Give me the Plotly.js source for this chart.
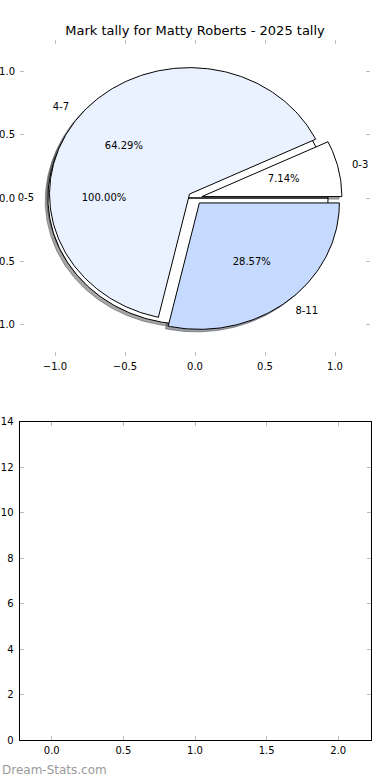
<!DOCTYPE html>
<html>
<head>
<meta charset="utf-8">
<script src="https://cdn.plot.ly/plotly-3.0.1.min.js"></script>
<style>html,body{margin:0;padding:0;background:#fff;}#chart{width:390px;height:780px;}</style>
</head>
<body>
<div id="chart"></div>
<script>
// ---- data ----
var chartTitle = "Mark tally for Matty Roberts - 2025 tally";
var bandLabels = ["0-3", "4-7", "8-11"];
var bandCounts = [1, 9, 4];
var totalLabels = ["0-5"];
var totalCounts = [14];
var pieTickVals = [-1.0, -0.5, 0.0, 0.5, 1.0];
var pieTickText = ["\u22121.0", "\u22120.5", "0.0", "0.5", "1.0"];
var barXTickVals = [0.0, 0.5, 1.0, 1.5, 2.0];
var barXTickText = ["0.0", "0.5", "1.0", "1.5", "2.0"];
var barYTickVals = [0, 2, 4, 6, 8, 10, 12, 14];
var barYTickText = ["0", "2", "4", "6", "8", "10", "12", "14"];
var watermark = "Dream-Stats.com";

// ---- style ----
var bandColors = [[255,255,255],[234,241,255],[198,217,255]];
var totalColors = [[255,255,255]];
var explode = 0.05, labelDist = 1.1, pctDist = 0.6, shadowOff = 0.02;
var FONT = "DejaVu Sans, sans-serif";

function rgb(c){return "rgb("+c[0]+","+c[1]+","+c[2]+")";}
function shadowCol(c){return "rgba("+Math.round(c[0]*0.3)+","+Math.round(c[1]*0.3)+","+Math.round(c[2]*0.3)+",0.5)";}

// build matplotlib-like pie wedges in data coordinates of axis x/y
function buildPie(labels, counts, colors){
  var total = counts.reduce(function(a,b){return a+b;},0);
  var out = [];
  var start = 0;
  for (var i=0;i<counts.length;i++){
    var frac = counts[i]/total;
    var t1 = start*2*Math.PI, t2 = (start+frac)*2*Math.PI;
    var mid = (t1+t2)/2;
    var cx = explode*Math.cos(mid), cy = explode*Math.sin(mid);
    var xs=[cx], ys=[cy];
    var n = Math.max(4, Math.ceil(frac*360));
    for (var k=0;k<=n;k++){
      var t = t1+(t2-t1)*k/n;
      xs.push(cx+Math.cos(t)); ys.push(cy+Math.sin(t));
    }
    xs.push(cx); ys.push(cy);
    out.push({xs:xs, ys:ys, color:colors[i], label:labels[i], pct:(frac*100).toFixed(2)+"%",
      lx:cx+labelDist*Math.cos(mid), ly:cy+labelDist*Math.sin(mid),
      px:cx+pctDist*Math.cos(mid), py:cy+pctDist*Math.sin(mid)});
    start += frac;
  }
  return out;
}

var pieA = buildPie(totalLabels, totalCounts, totalColors);
var pieB = buildPie(bandLabels, bandCounts, bandColors);
var allW = pieA.concat(pieB);

var traces = [];
// shadows below all wedges
allW.forEach(function(w){
  traces.push({type:"scatter", mode:"lines", x:w.xs.map(function(v){return v-shadowOff;}),
    y:w.ys.map(function(v){return v-shadowOff;}), fill:"toself", fillcolor:shadowCol(w.color),
    line:{color:shadowCol(w.color), width:1}, hoverinfo:"skip", showlegend:false, xaxis:"x", yaxis:"y"});
});
// wedges
allW.forEach(function(w){
  traces.push({type:"scatter", mode:"lines", x:w.xs, y:w.ys, fill:"toself", fillcolor:rgb(w.color),
    line:{color:"black", width:1}, hoverinfo:"skip", showlegend:false, xaxis:"x", yaxis:"y"});
});
// labels
allW.forEach(function(w){
  traces.push({type:"scatter", mode:"text", x:[w.lx], y:[w.ly], text:[w.label],
    textposition: w.lx < 0 ? "middle left" : "middle right", textfont:{family:FONT,size:10,color:"black"},
    cliponaxis:false, hoverinfo:"skip", showlegend:false, xaxis:"x", yaxis:"y"});
  traces.push({type:"scatter", mode:"text", x:[w.px], y:[w.py], text:[w.pct],
    textposition:"middle center", textfont:{family:FONT,size:10,color:"black"},
    cliponaxis:false, hoverinfo:"skip", showlegend:false, xaxis:"x", yaxis:"y"});
});
// empty second axes
traces.push({type:"scatter", mode:"markers", x:[], y:[], xaxis:"x2", yaxis:"y2", showlegend:false});

var W=390, H=780;
var tickCommon = {ticks:"inside", ticklen:4, tickwidth:1, tickcolor:"#bdbdbd", showgrid:false, zeroline:false,
  tickfont:{family:FONT, size:10, color:"black"}, tickmode:"array", fixedrange:true};

var layout = {
  width:W, height:H, margin:{l:0,r:0,t:0,b:0}, paper_bgcolor:"white", plot_bgcolor:"white", showlegend:false,
  title:{text:chartTitle, font:{family:FONT, size:13, color:"black"}, x:195/W, xanchor:"center", xref:"paper",
    y:1-30/H, yanchor:"middle", yref:"paper"},
  xaxis: Object.assign({}, tickCommon, {domain:[20/W, 370/W], range:[-1.25,1.25], tickvals:pieTickVals, ticktext:pieTickText,
    showline:false, mirror:"ticks", anchor:"y", ticklabelstandoff:3}),
  yaxis: Object.assign({}, tickCommon, {domain:[1-356/H, 1-40/H], range:[-1.25,1.25], tickvals:pieTickVals, ticktext:pieTickText,
    showline:false, mirror:"ticks", anchor:"x", ticklabelstandoff:4}),
  xaxis2: Object.assign({}, tickCommon, {domain:[19.5/W, 370.5/W], range:[-0.225,2.225], tickvals:barXTickVals, ticktext:barXTickText,
    showline:true, linecolor:"black", linewidth:1, mirror:"ticks", anchor:"y2", ticklabelstandoff:1}),
  yaxis2: Object.assign({}, tickCommon, {domain:[1-740/H, 1-421.5/H], range:[0,14], tickvals:barYTickVals, ticktext:barYTickText,
    showline:true, linecolor:"black", linewidth:1, mirror:"ticks", anchor:"x2", ticklabelstandoff:3}),
  annotations:[{text:watermark, xref:"paper", yref:"paper", x:0, y:1-770/H, xanchor:"left", yanchor:"middle",
    showarrow:false, font:{family:FONT, size:12, color:"#9a9a9a"}}]
};

Plotly.newPlot("chart", traces, layout, {displayModeBar:false, staticPlot:true});
</script>
</body>
</html>
